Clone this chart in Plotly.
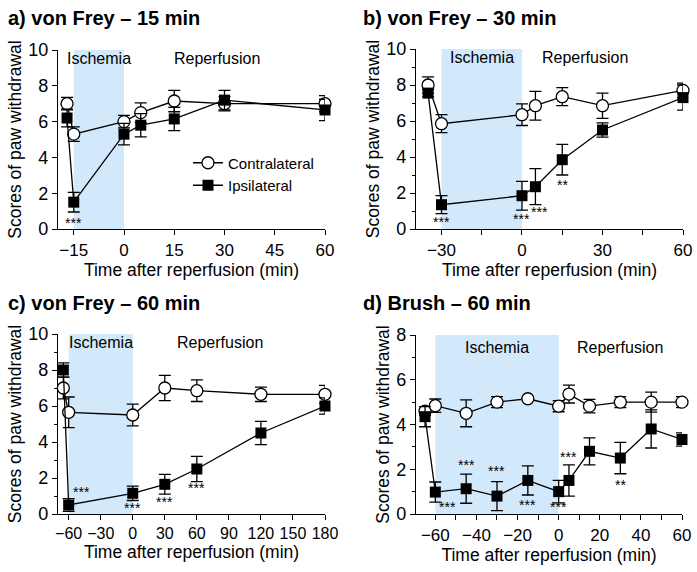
import plotly.graph_objects as go

# panel a: von Frey 15 min
a_t = [-17, -15, 0, 5, 15, 30, 60]
a_contra = [7.0, 5.3, 6.0, 6.5, 7.15, 7.0, 7.0]
a_contra_err = [0.35, 0.4, 0.35, 0.55, 0.6, 0.4, 0.45]
a_ipsi = [6.2, 1.5, 5.3, 5.8, 6.15, 7.2, 6.65]
a_ipsi_err = [0.5, 0.55, 0.6, 0.65, 0.65, 0.55, 0.6]
a_stars = [(-15, 0.35, "***")]

# panel b: von Frey 30 min
b_t = [-35, -30, 0, 5, 15, 30, 60]
b_contra = [8.0, 5.85, 6.35, 6.85, 7.35, 6.85, 7.7]
b_contra_err = [0.45, 0.5, 0.6, 0.8, 0.5, 0.7, 0.4]
b_ipsi = [7.55, 1.35, 1.85, 2.35, 3.85, 5.5, 7.3]
b_ipsi_err = [0.2, 0.5, 0.8, 1.0, 0.85, 0.4, 0.7]
b_stars = [(-30, 0.4, "***"), (0, 0.55, "***"), (6.5, 0.95, "***"), (15, 2.45, "**")]

# panel c: von Frey 60 min
c_t = [-65, -60, 0, 30, 60, 120, 180]
c_contra = [7.0, 5.65, 5.5, 7.0, 6.85, 6.65, 6.65]
c_contra_err = [0.6, 0.85, 0.6, 0.7, 0.6, 0.4, 0.5]
c_ipsi = [8.0, 0.5, 1.15, 1.65, 2.5, 4.5, 6.0]
c_ipsi_err = [0.4, 0.35, 0.4, 0.55, 0.7, 0.65, 0.45]
c_stars = [(-48, 1.22, "***"), (0, 0.33, "***"), (30, 0.65, "***"), (60, 1.45, "***")]

# panel d: brush 60 min
d_t = [-65, -60, -45, -30, -15, 0, 5, 15, 30, 45, 60]
d_contra = [4.6, 4.84, 4.5, 5.0, 5.15, 4.82, 5.36, 4.82, 5.0, 5.0, 5.0]
d_contra_err = [0.2, 0.3, 0.6, 0.25, 0.05, 0.25, 0.4, 0.3, 0.25, 0.45, 0.25]
d_ipsi = [4.35, 0.98, 1.13, 0.8, 1.5, 1.0, 1.5, 2.8, 2.5, 3.8, 3.33]
d_ipsi_err = [0.45, 0.45, 0.65, 0.65, 0.65, 0.5, 0.7, 0.6, 0.7, 0.85, 0.3]
d_stars = [(-54, 0.3, "***"), (-45, 2.2, "***"), (-30, 1.9, "***"), (-15, 0.4, "***"),
           (0, 0.3, "***"), (5, 2.55, "***"), (30, 1.3, "**")]

W, H = 697, 572

panels = [
    dict(t=a_t, c=a_contra, ce=a_contra_err, i=a_ipsi, ie=a_ipsi_err, stars=a_stars,
         title="a) von Frey – 15 min", isch=(-15, 0), ymax=10, xr=[-19.7, 60],
         xticks=[-15, 0, 15, 30, 45, 60], xminor=None, yminor=False, xtick_size=17,
         isch_x=-7.5, rep_x=27.7, px=(58, 325), py=(50, 229), tpos=(6, 18)),
    dict(t=b_t, c=b_contra, ce=b_contra_err, i=b_ipsi, ie=b_ipsi_err, stars=b_stars,
         title="b) von Frey – 30 min", isch=(-30, 0), ymax=10, xr=[-39.5, 60],
         xticks=[-30, 0, 30, 60], xminor=15, yminor=True, xtick_size=17,
         isch_x=-15, rep_x=23.5, px=(416, 683), py=(49, 229), tpos=(361, 18)),
    dict(t=c_t, c=c_contra, ce=c_contra_err, i=c_ipsi, ie=c_ipsi_err, stars=c_stars,
         title="c) von Frey – 60 min", isch=(-60, 0), ymax=10, xr=[-70, 180],
         xticks=[-60, -30, 0, 30, 60, 90, 120, 150, 180], xminor=None, yminor=True,
         xtick_size=16, isch_x=-30, rep_x=82, px=(58, 325), py=(334, 514), tpos=(6, 303)),
    dict(t=d_t, c=d_contra, ce=d_contra_err, i=d_ipsi, ie=d_ipsi_err, stars=d_stars,
         title="d) Brush – 60 min", isch=(-60, 0), ymax=8, xr=[-69.4, 60],
         xticks=[-60, -40, -20, 0, 20, 40, 60], xminor=10, yminor=True, xtick_size=17,
         isch_x=-30, rep_x=30, px=(416, 682), py=(335, 514), tpos=(361, 303)),
]

FONT = "Liberation Sans, Arial, sans-serif"
fig = go.Figure()
layout = dict(
    width=W, height=H, margin=dict(l=0, r=0, t=0, b=0),
    plot_bgcolor="white", paper_bgcolor="white",
    font=dict(family=FONT, color="black", size=16),
    showlegend=True,
    legend=dict(x=0.2697, y=0.7439, xanchor="left", yanchor="top",
                bgcolor="rgba(0,0,0,0)", font=dict(size=15), tracegroupgap=0,
                itemwidth=30),
)
shapes, annotations = [], []

for k, p in enumerate(panels):
    n = "" if k == 0 else str(k + 1)
    xa, ya = "x" + n, "y" + n
    # contralateral first so the filled squares sit on top
    fig.add_trace(go.Scatter(
        x=p["t"], y=p["c"], xaxis=xa, yaxis=ya, mode="lines+markers",
        name="Contralateral", showlegend=(k == 0), legendrank=1, cliponaxis=False,
        line=dict(color="black", width=1.3),
        marker=dict(symbol="circle", size=12, color="white",
                    line=dict(color="black", width=1.3)),
        error_y=dict(type="data", array=p["ce"], color="black", thickness=1.3, width=6)))
    fig.add_trace(go.Scatter(
        x=p["t"], y=p["i"], xaxis=xa, yaxis=ya, mode="lines+markers",
        name="Ipsilateral", showlegend=(k == 0), legendrank=2, cliponaxis=False,
        line=dict(color="black", width=1.3),
        marker=dict(symbol="square", size=11, color="black"),
        error_y=dict(type="data", array=p["ie"], color="black", thickness=1.3, width=6)))

    dx = [p["px"][0] / W, p["px"][1] / W]
    dy = [1 - p["py"][1] / H, 1 - p["py"][0] / H]
    xaxis = dict(domain=dx, anchor=ya, range=p["xr"], tickvals=p["xticks"],
                 showline=True, linecolor="black", linewidth=1.3, ticks="outside",
                 ticklen=5, tickwidth=1.3, tickcolor="black", showgrid=False,
                 zeroline=False, tickfont=dict(size=p["xtick_size"]), tickangle=0,
                 automargin=False,
                 title=dict(text="Time after reperfusion (min)", font=dict(size=17.5), standoff=2))
    if p["xminor"]:
        xaxis["minor"] = dict(dtick=p["xminor"], tick0=0, ticks="outside", ticklen=5,
                              tickwidth=1.3, tickcolor="black", showgrid=False)
    yaxis = dict(domain=dy, anchor=xa, range=[0, p["ymax"]], dtick=2,
                 showline=True, linecolor="black", linewidth=1.3, ticks="outside",
                 ticklen=5, tickwidth=1.3, tickcolor="black", showgrid=False,
                 zeroline=False, tickfont=dict(size=18), automargin=False,
                 title=dict(text="Scores of paw withdrawal", font=dict(size=17.5), standoff=2))
    if p["yminor"]:
        yaxis["minor"] = dict(dtick=1, ticks="outside", ticklen=3, tickwidth=1.3,
                              tickcolor="black", showgrid=False)
    layout["xaxis" + n] = xaxis
    layout["yaxis" + n] = yaxis

    shapes.append(dict(type="rect", xref=xa, yref=ya, x0=p["isch"][0], x1=p["isch"][1],
                       y0=0, y1=p["ymax"], fillcolor="#d2e8fb", line=dict(width=0),
                       layer="below"))
    ytop = p["ymax"] * 0.955 if p["ymax"] == 10 else 7.45
    annotations.append(dict(xref=xa, yref=ya, x=p["isch_x"], y=ytop, text="Ischemia",
                            showarrow=False, font=dict(size=16)))
    annotations.append(dict(xref=xa, yref=ya, x=p["rep_x"], y=ytop, text="Reperfusion",
                            showarrow=False, font=dict(size=16)))
    for sx, sy, st in p["stars"]:
        annotations.append(dict(xref=xa, yref=ya, x=sx, y=sy, text=st, showarrow=False,
                                font=dict(size=14)))
    annotations.append(dict(xref="paper", yref="paper", x=p["tpos"][0] / W,
                            y=1 - p["tpos"][1] / H, xanchor="left", yanchor="middle",
                            text="<b>" + p["title"] + "</b>",
                            showarrow=False, font=dict(size=20)))

layout["shapes"] = shapes
layout["annotations"] = annotations
fig.update_layout(**layout)
# drop the default 8px body margin so the figure fills the window exactly
fig.write_html("out.html", config={"displayModeBar": False},
               post_script="document.body.style.margin = '0';")
